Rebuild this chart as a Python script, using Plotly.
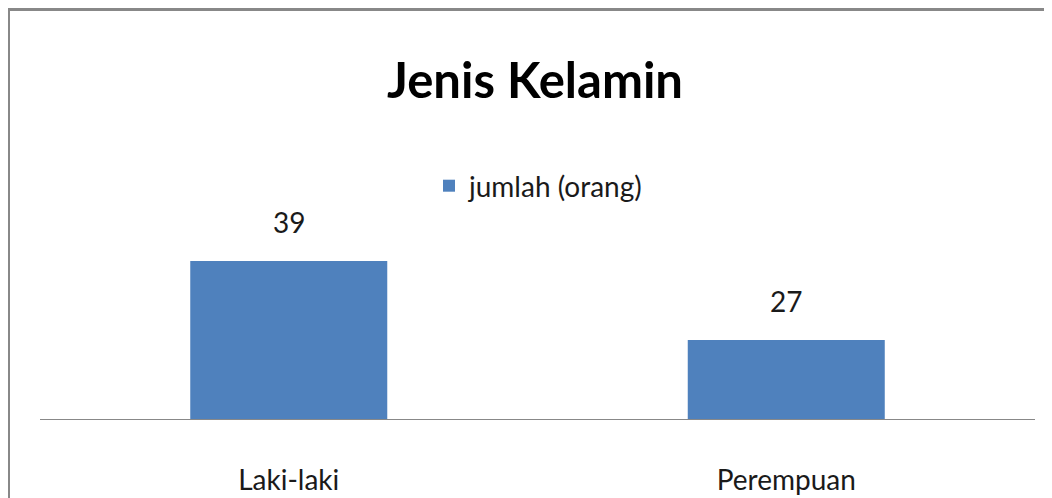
import plotly.graph_objects as go

categories = ["Laki-laki", "Perempuan"]
values = [39, 27]
series_name = "jumlah (orang)"
title_text = "Jenis Kelamin"

# The page body adds an 8px offset; positions below are in figure pixels.
W, H = 1052, 498
ML, MR, MT, MB = 32, 25, 142, 87
plot_w = W - ML - MR
plot_h = H - MT - MB
y_min = 15
y_max = y_min + plot_h / 6.583

FONT = "Lato, Noto Sans, sans-serif"
BAR = "#4F81BD"
TXT = "#1a1a1a"

fig = go.Figure()
fig.add_trace(go.Bar(
    x=categories, y=values, name=series_name,
    marker=dict(color=BAR, line=dict(width=0)),
    showlegend=True,
))

for c, v in zip(categories, values):
    fig.add_annotation(x=c, y=v, text=str(v), showarrow=False,
                       xref="x", yref="y", yanchor="middle", yshift=39,
                       font=dict(family=FONT, size=28, color=TXT))

def px_x(p):
    return (p - ML) / plot_w

def px_y(p):
    return (H - MB - p) / plot_h

fig.add_shape(type="rect", xref="paper", yref="paper",
              x0=px_x(0.5), y0=px_y(560), x1=px_x(1100), y1=px_y(1.5),
              line=dict(color="#888888", width=3), fillcolor="rgba(0,0,0,0)",
              layer="below")

fig.update_layout(
    width=W, height=H,
    margin=dict(l=ML, r=MR, t=MT, b=MB, pad=0, autoexpand=False),
    paper_bgcolor="white", plot_bgcolor="white",
    bargap=0.604,
    title=dict(text="<b>" + title_text + "</b>", x=527 / W, xanchor="center",
               y=1 - 73 / H, yanchor="middle", yref="container", xref="container",
               font=dict(family=FONT, size=49, color="#000000")),
    legend=dict(orientation="h", x=px_x(421), xanchor="left",
                y=px_y(178), yanchor="middle",
                font=dict(family=FONT, size=28, color=TXT),
                bgcolor="rgba(0,0,0,0)", itemwidth=30),
    xaxis=dict(showline=True, linecolor="#888888", linewidth=1.3,
               ticks="", showgrid=False, zeroline=False, automargin=False,
               tickfont=dict(family=FONT, size=28, color=TXT),
               ticklabelstandoff=36),
    yaxis=dict(range=[y_min, y_max], visible=False, showgrid=False,
               zeroline=False, automargin=False),
    font=dict(family=FONT),
)

fig.write_html("out.html")
